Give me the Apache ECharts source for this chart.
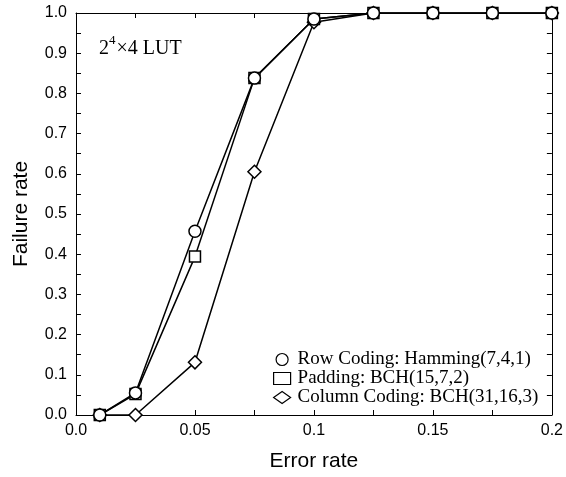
<!DOCTYPE html>
<html>
<head>
<meta charset="utf-8">
<script src="https://cdn.jsdelivr.net/npm/echarts@6/dist/echarts.min.js"></script>
<style>html,body{margin:0;padding:0;background:#fff;}#c{width:566px;height:477px;}</style>
</head>
<body>
<div id="c"></div>
<script>
var errorRates = [0.01, 0.025, 0.05, 0.075, 0.1, 0.125, 0.15, 0.175, 0.2];
var rowCoding = [0, 0.055, 0.457, 0.838, 0.985, 1, 1, 1, 1];
var padding = [0, 0.052, 0.394, 0.838, 0.985, 1, 1, 1, 1];
var columnCoding = [0, 0, 0.131, 0.605, 0.977, 1, 1, 1, 1];
var seriesNames = ['Row Coding: Hamming(7,4,1)', 'Padding: BCH(15,7,2)', 'Column Coding: BCH(31,16,3)'];
var xTickValues = [0, 0.05, 0.1, 0.15, 0.2];
var xTickLabels = ['0.0', '0.05', '0.1', '0.15', '0.2'];
var yTickLabels = ['0.0','0.1','0.2','0.3','0.4','0.5','0.6','0.7','0.8','0.9','1.0'];

function pairs(ys){ return errorRates.map(function(x,i){ return [x, ys[i]]; }); }
function xLabel(v){
  for (var i=0;i<xTickValues.length;i++){ if (Math.abs(v-xTickValues[i])<1e-9) return xTickLabels[i]; }
  return '';
}
function yLabel(v){ var i = Math.round(v*10); return yTickLabels[i] || ''; }

function mkX(pos, show){
  return {
    type:'value', position:pos, min:0, max:0.2, interval:0.05,
    name: show ? 'Error rate' : '', nameLocation:'middle', nameGap:36,
    nameTextStyle:{fontFamily:'Liberation Sans', fontSize:21, color:'#000'},
    axisLine:{show:true, onZero:false, lineStyle:{color:'#000', width:1}},
    axisTick:{show:true, inside:true, length:5, lineStyle:{color:'#000'}},
    minorTick:{show:true, splitNumber:2, length:5, lineStyle:{color:'#000'}},
    splitLine:{show:false},
    axisLabel:{show:show, formatter:xLabel, fontFamily:'Liberation Sans', fontSize:16, color:'#000', margin:8}
  };
}
function mkY(pos, show){
  return {
    type:'value', position:pos, min:0, max:1, interval:0.1,
    name: show ? 'Failure rate' : '', nameLocation:'middle', nameGap:44,
    nameTextStyle:{fontFamily:'Liberation Sans', fontSize:21, color:'#000'},
    axisLine:{show:true, onZero:false, lineStyle:{color:'#000', width:1}},
    axisTick:{show:true, inside:true, length:5, lineStyle:{color:'#000'}},
    minorTick:{show:true, splitNumber:2, length:5, lineStyle:{color:'#000'}},
    splitLine:{show:false},
    axisLabel:{show:show, formatter:yLabel, fontFamily:'Liberation Sans', fontSize:16, color:'#000', margin:9}
  };
}
function mkSeries(name, ys, sym, size){
  return {
    name:name, type:'line', data:pairs(ys), symbol:sym, symbolSize:size,
    lineStyle:{color:'#000', width:1.5},
    itemStyle:{color:'#fff', borderColor:'#000', borderWidth:1.5},
    emphasis:{disabled:true}, animation:false, z:3
  };
}
var chart = echarts.init(document.getElementById('c'), null, {renderer:'canvas'});
chart.setOption({
  backgroundColor:'#fff',
  animation:false,
  grid:{left:76, right:10, top:13, bottom:58, containLabel:false},
  xAxis:[mkX('bottom', true), mkX('top', false)],
  yAxis:[mkY('left', true), mkY('right', false)],
  legend:{
    orient:'vertical', left:268, top:345, itemGap:0, itemWidth:17, itemHeight:12,
    symbolKeepAspect:true,
    textStyle:{fontFamily:'Liberation Serif', fontSize:19, lineHeight:19, color:'#000', padding:[0,0,0,2]},
    data:[
      {name:seriesNames[0], icon:'circle', itemStyle:{color:'#fff', borderColor:'#000', borderWidth:1.2}},
      {name:seriesNames[1], icon:'rect', itemStyle:{color:'#fff', borderColor:'#000', borderWidth:1.2}},
      {name:seriesNames[2], icon:'diamond', itemStyle:{color:'#fff', borderColor:'#000', borderWidth:1.2}}
    ],
    selectedMode:false
  },
  graphic:[{
    type:'text', left:99, top:34,
    style:{
      text:'{a|2}{s|4}{a|×4 LUT}',
      rich:{
        a:{fontFamily:'Liberation Serif', fontSize:20, fill:'#000', lineHeight:25, verticalAlign:'bottom'},
        s:{fontFamily:'Liberation Serif', fontSize:13, fill:'#000', lineHeight:25, verticalAlign:'top', padding:[0,1,0,0]}
      }
    }
  }],
  series:[
    mkSeries(seriesNames[2], columnCoding, 'diamond', 13),
    mkSeries(seriesNames[1], padding, 'rect', 11),
    mkSeries(seriesNames[0], rowCoding, 'circle', 12)
  ]
});
</script>
</body>
</html>
